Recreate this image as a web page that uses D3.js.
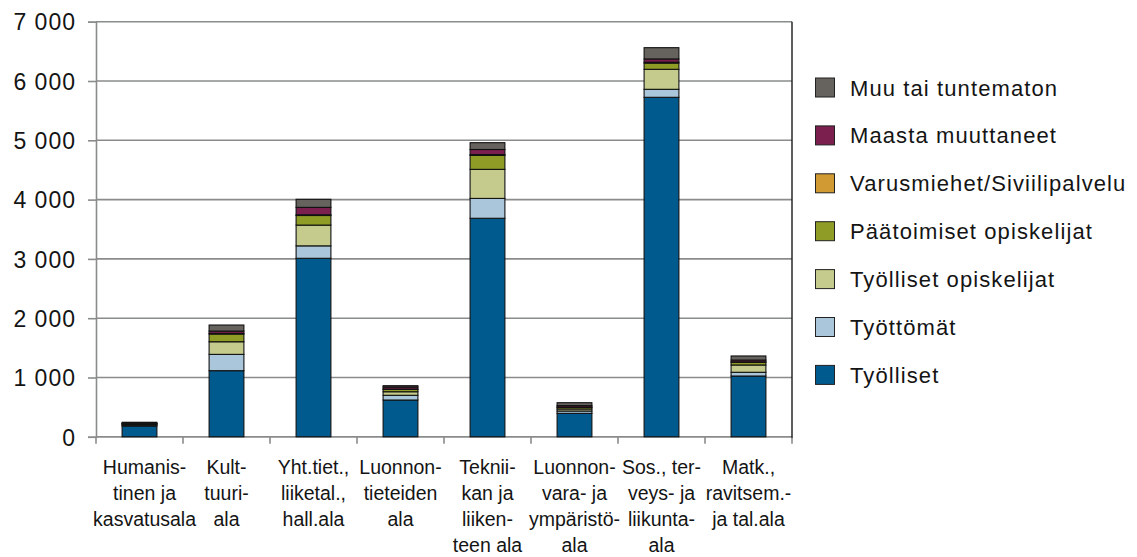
<!DOCTYPE html>
<html>
<head>
<meta charset="utf-8">
<script src="https://cdn.jsdelivr.net/npm/d3@7/dist/d3.min.js"></script>
<style>
  html, body { margin: 0; padding: 0; background: #fff; }
  svg { display: block; font-family: "Liberation Sans", Arial, Helvetica, sans-serif; }
</style>
</head>
<body>
<svg id="chart" width="1137" height="557"></svg>
<script>
// Fields of study (label lines as printed under each bar)
const categories = [
  ["Humanis-", "tinen ja", "kasvatusala"],
  ["Kult-", "tuuri-", "ala"],
  ["Yht.tiet.,", "liiketal.,", "hall.ala"],
  ["Luonnon-", "tieteiden", "ala"],
  ["Teknii-", "kan ja", "liiken-", "teen ala"],
  ["Luonnon-", "vara- ja", "ympäristö-", "ala"],
  ["Sos., ter-", "veys- ja", "liikunta-", "ala"],
  ["Matk.,", "ravitsem.-", "ja tal.ala"]
];

// Series values, bottom to top of each stack
const tyolliset          = [182, 1115, 3010, 620, 3685, 395, 5725, 1025];
const tyottomat          = [12, 275, 210, 80, 335, 40, 135, 63];
const tyollisetOpisk     = [15, 213, 350, 60, 490, 34, 337, 123];
const paatoimisetOpisk   = [10, 130, 162, 40, 235, 28, 105, 45];
const varusmiehet        = [3, 10, 12, 4, 15, 4, 15, 8];
const maastaMuuttaneet   = [6, 40, 125, 35, 85, 25, 55, 30];
const muuTaiTuntematon   = [17, 102, 136, 23, 115, 49, 190, 69];

const seriesNames = [
  "Työlliset",
  "Työttömät",
  "Työlliset opiskelijat",
  "Päätoimiset opiskelijat",
  "Varusmiehet/Siviilipalvelu",
  "Maasta muuttaneet",
  "Muu tai tuntematon"
];
const seriesValues = [tyolliset, tyottomat, tyollisetOpisk, paatoimisetOpisk,
                      varusmiehet, maastaMuuttaneet, muuTaiTuntematon];
const seriesColors = ["#005a8e", "#a9c6da", "#c4cb8c", "#8f9d27",
                      "#d19a33", "#7a1f4e", "#66625d"];

const yTicks = [0, 1000, 2000, 3000, 4000, 5000, 6000, 7000];

// Build rows for d3.stack
const rows = categories.map((c, i) => {
  const r = { idx: i };
  seriesNames.forEach((s, k) => { r[s] = seriesValues[k][i]; });
  return r;
});

const svg = d3.select("#chart");
const plot = { left: 96, right: 792, top: 21.7, bottom: 436.8 };

const x = d3.scaleBand()
  .domain(d3.range(categories.length))
  .range([plot.left, plot.right])
  .paddingInner(0.6)
  .paddingOuter(0.3);

const xEdges = d3.scaleLinear()
  .domain([0, categories.length])
  .range([plot.left, plot.right]);

const y = d3.scaleLinear().domain([0, 7000]).range([plot.bottom, plot.top]);

const gridColor = "#8a8c8c";
const textColor = "#141414";

// Horizontal gridlines
svg.append("g")
  .selectAll("line")
  .data(yTicks)
  .join("line")
  .attr("x1", plot.left).attr("x2", plot.right)
  .attr("y1", d => y(d)).attr("y2", d => y(d))
  .attr("stroke", gridColor).attr("stroke-width", 1.6);

// Y axis
const yAxis = svg.append("g")
  .attr("transform", `translate(${plot.left},0)`)
  .call(d3.axisLeft(y).tickValues(yTicks).tickSize(8).tickPadding(12)
    .tickFormat(d => d3.format(",")(d).replace(/,/g, " ")));
yAxis.select(".domain").attr("stroke", gridColor).attr("stroke-width", 1.6);
yAxis.selectAll(".tick line").attr("stroke", gridColor).attr("stroke-width", 1.6);
yAxis.selectAll(".tick text")
  .attr("fill", textColor)
  .style("font-size", "23px")
  .style("letter-spacing", "1px")
  .attr("dy", "0.36em");

// X axis line with category boundary ticks
svg.append("line")
  .attr("x1", plot.left).attr("x2", plot.right)
  .attr("y1", plot.bottom).attr("y2", plot.bottom)
  .attr("stroke", gridColor).attr("stroke-width", 1.6);
svg.append("g")
  .selectAll("line")
  .data(d3.range(categories.length + 1))
  .join("line")
  .attr("x1", d => xEdges(d)).attr("x2", d => xEdges(d))
  .attr("y1", plot.bottom).attr("y2", plot.bottom + 7)
  .attr("stroke", gridColor).attr("stroke-width", 1.6);

// Right border
svg.append("line")
  .attr("x1", plot.right).attr("x2", plot.right)
  .attr("y1", plot.top).attr("y2", plot.bottom + 1)
  .attr("stroke", "#1a1a1a").attr("stroke-width", 1.4);

// Stacked bars
const stacked = d3.stack().keys(seriesNames)(rows);
svg.append("g")
  .selectAll("g")
  .data(stacked)
  .join("g")
  .attr("fill", (d, i) => seriesColors[i])
  .selectAll("rect")
  .data(d => d)
  .join("rect")
  .attr("x", d => x(d.data.idx))
  .attr("width", x.bandwidth())
  .attr("y", d => y(d[1]))
  .attr("height", d => y(d[0]) - y(d[1]))
  .attr("stroke", "#111")
  .attr("stroke-width", 1.1);

// Category labels
const labelG = svg.append("g");
categories.forEach((lines, i) => {
  const t = labelG.append("text")
    .attr("text-anchor", "middle")
    .attr("fill", textColor)
    .style("font-size", "19.5px");
  lines.forEach((ln, j) => {
    t.append("tspan")
      .attr("x", x(i) + x.bandwidth() / 2)
      .attr("y", 474 + j * 26)
      .text(ln);
  });
  // keep wide labels from running past the left edge of the plot
  const w = t.node().getBBox().width;
  const cx = x(i) + x.bandwidth() / 2;
  const minCx = plot.left - 3 + w / 2;
  if (cx < minCx) t.selectAll("tspan").attr("x", minCx);
});

// Legend (top entry = top of stack)
const legend = svg.append("g");
const legendItems = seriesNames.map((s, i) => ({ name: s, color: seriesColors[i] })).reverse();
legendItems.forEach((d, i) => {
  const cy = 87.5 + i * 47.9;
  legend.append("rect")
    .attr("x", 815.5).attr("y", cy - 9.5)
    .attr("width", 19).attr("height", 19)
    .attr("fill", d.color)
    .attr("stroke", "#222").attr("stroke-width", 1);
  legend.append("text")
    .attr("x", 850).attr("y", cy + 8)
    .attr("fill", textColor)
    .style("font-size", "22px")
    .style("letter-spacing", "1.1px")
    .text(d.name);
});
</script>
</body>
</html>
